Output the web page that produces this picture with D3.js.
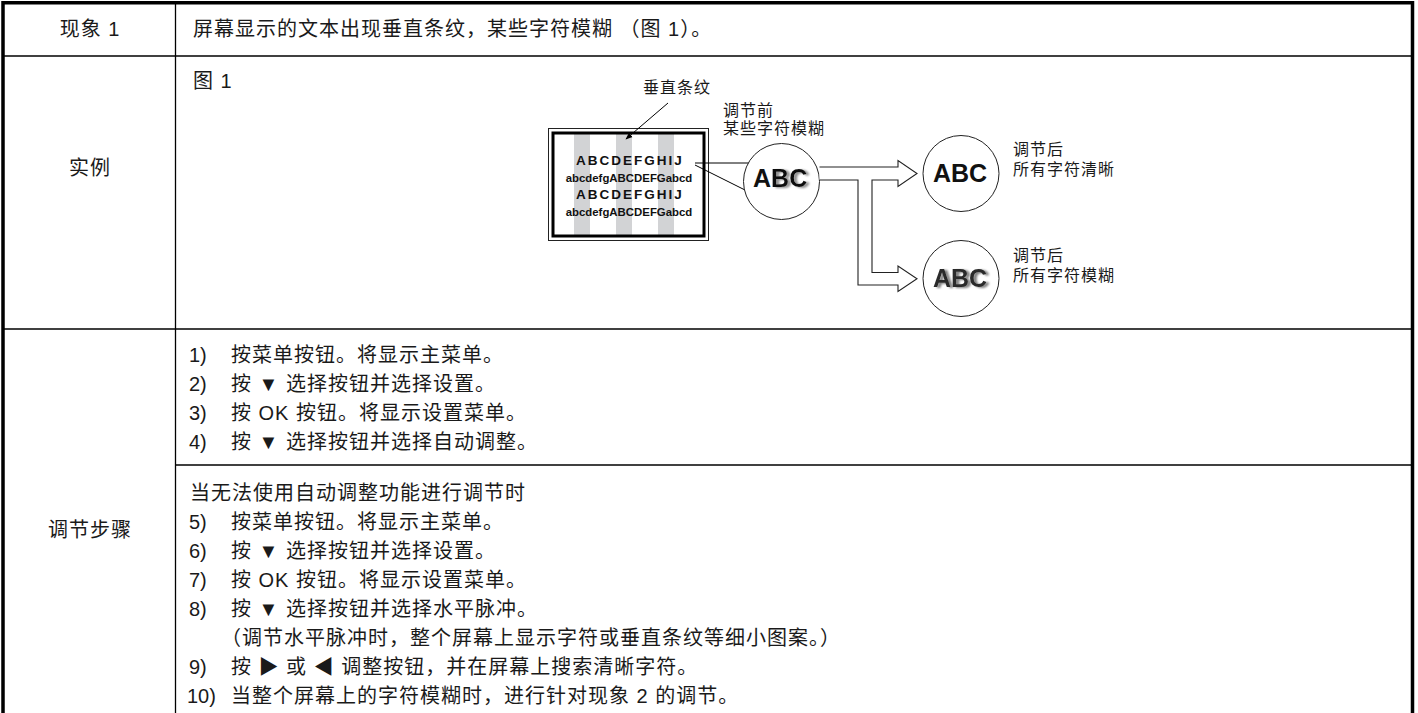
<!DOCTYPE html>
<html><head><meta charset="utf-8">
<script src="https://cdn.jsdelivr.net/npm/d3@7"></script>
<style>
html,body{margin:0;padding:0;background:#fff;}
svg{display:block;}
</style></head>
<body>
<div id="chart"></div>
<script>
// ---- content ----
const rowLabels = ["现象 1", "实例", "调节步骤"];
const symptomText = "屏幕显示的文本出现垂直条纹，某些字符模糊 （图 1）。";
const figureTitle = "图 1";
const stripeLabel = "垂直条纹";
const beforeLabels = ["调节前", "某些字符模糊"];
const afterClearLabels = ["调节后", "所有字符清晰"];
const afterBlurLabels = ["调节后", "所有字符模糊"];
const screenLines = ["ABCDEFGHIJ", "abcdefgABCDEFGabcd", "ABCDEFGHIJ", "abcdefgABCDEFGabcd"];
const circleText = "ABC";
const stepNumsA = ["1)", "2)", "3)", "4)"];
const stepTextsA = ["按菜单按钮。将显示主菜单。", "按 ▼ 选择按钮并选择设置。", "按 OK 按钮。将显示设置菜单。", "按 ▼ 选择按钮并选择自动调整。"];
const introB = "当无法使用自动调整功能进行调节时";
const stepNumsB = ["5)", "6)", "7)", "8)", "", "9)", "10)"];
const stepTextsB = ["按菜单按钮。将显示主菜单。", "按 ▼ 选择按钮并选择设置。", "按 OK 按钮。将显示设置菜单。", "按 ▼ 选择按钮并选择水平脉冲。", "（调节水平脉冲时，整个屏幕上显示字符或垂直条纹等细小图案。）", "按 ▶ 或 ◀ 调整按钮，并在屏幕上搜索清晰字符。", "当整个屏幕上的字符模糊时，进行针对现象 2 的调节。"];

// ---- layout ----
const W = 1418, H = 713;
const FONT = "'Liberation Sans', Arial, 'Noto Sans CJK SC', sans-serif";
const svg = d3.select("#chart").append("svg").attr("width", W).attr("height", H);
svg.append("rect").attr("width", W).attr("height", H).attr("fill", "#fff");
const defs = svg.append("defs");

const xL = 3, xR = 1412.5, xCol = 175.5;
const yRows = [2.75, 56, 329];
const ySub = 465;

const g = svg.append("g");
g.selectAll("line.row").data(yRows.slice(1)).join("line")
  .attr("x1", xL).attr("x2", xR).attr("y1", d => d).attr("y2", d => d)
  .attr("stroke", "#000").attr("stroke-width", 1.3);
g.append("line").attr("x1", xCol).attr("x2", xR).attr("y1", ySub).attr("y2", ySub)
  .attr("stroke", "#000").attr("stroke-width", 1.3);
g.append("line").attr("x1", xCol).attr("x2", xCol).attr("y1", yRows[0]).attr("y2", H)
  .attr("stroke", "#000").attr("stroke-width", 1.3);
g.append("path").attr("d", `M${xL},${H}V${yRows[0]}H${xR}V${H}`)
  .attr("fill", "none").attr("stroke", "#000").attr("stroke-width", 3.5);

const txtColor = "#1a1a1a";
function txt(x, y, s, size, anchor) {
  return svg.append("text").attr("x", x).attr("y", y).text(s)
    .attr("font-family", FONT).attr("font-size", size).attr("fill", txtColor)
    .attr("text-anchor", anchor || "start");
}

// row labels
const labelY = [29, 168, 530];
rowLabels.forEach((s, i) => txt(90, labelY[i] + 7, s, 20, "middle").attr("letter-spacing", 1));

// symptom text
txt(193, 29 + 7, symptomText, 20).attr("letter-spacing", 1);
txt(193, 81 + 7, figureTitle, 20).attr("letter-spacing", 1);

// steps block A
const yA = d3.scaleLinear().domain([0, 1]).range([355, 384]);
stepNumsA.forEach((n, i) => {
  txt(189, yA(i) + 7, n, 20);
  txt(231, yA(i) + 7, stepTextsA[i], 20).attr("letter-spacing", 1);
});
// steps block B
const yB = d3.scaleLinear().domain([0, 1]).range([493, 522]);
txt(190, yB(0) + 7, introB, 20).attr("letter-spacing", 1);
stepNumsB.forEach((n, i) => {
  const y = yB(i + 1) + 7;
  if (n) txt(n.length > 2 ? 187 : 189, y, n, 20);
  txt(n ? 231 : 221, y, stepTextsB[i], 20).attr("letter-spacing", 1);
});

// ---- figure ----
const fig = svg.append("g");
const mon = {x: 548.5, y: 128.5, w: 160, h: 112};
fig.append("rect").attr("x", mon.x).attr("y", mon.y).attr("width", mon.w).attr("height", mon.h)
  .attr("fill", "#fff").attr("stroke", "#222").attr("stroke-width", 1);
const stripeX = [574, 616, 658];
fig.selectAll("rect.stripe").data(stripeX).join("rect")
  .attr("x", d => d).attr("y", mon.y + 5).attr("width", 16).attr("height", mon.h - 10)
  .attr("fill", "#d2d3d5");
fig.append("rect").attr("x", mon.x + 4.5).attr("y", mon.y + 4.5).attr("width", mon.w - 9).attr("height", mon.h - 9)
  .attr("fill", "none").attr("stroke", "#000").attr("stroke-width", 3);
const lineY = [164.5, 182, 198.5, 216];
screenLines.forEach((s, i) => {
  const big = i % 2 === 0;
  fig.append("text").attr("x", big ? 630 : 629).attr("y", lineY[i]).text(s)
    .attr("font-family", FONT).attr("font-weight", "bold")
    .attr("font-size", big ? 13.5 : 11.4).attr("letter-spacing", big ? 2 : 0)
    .attr("text-anchor", "middle").attr("fill", "#111");
});
// stripe pointer
defs.append("marker").attr("id", "ah").attr("viewBox", "0 0 10 10")
  .attr("refX", 9).attr("refY", 5).attr("markerWidth", 7).attr("markerHeight", 7)
  .attr("markerUnits", "userSpaceOnUse").attr("orient", "auto")
  .append("path").attr("d", "M0,1L10,5L0,9Z").attr("fill", "#000");
fig.append("line").attr("x1", 668).attr("y1", 103).attr("x2", 626).attr("y2", 139)
  .attr("stroke", "#000").attr("stroke-width", 1).attr("marker-end", "url(#ah)");
fig.append("line").attr("x1", 695).attr("y1", 163).attr("x2", 749).attr("y2", 163).attr("stroke", "#000").attr("stroke-width", 1);
fig.append("line").attr("x1", 695).attr("y1", 165).attr("x2", 745).attr("y2", 190).attr("stroke", "#000").attr("stroke-width", 1);

// ghost (blurred) filters
function ghost(id, dx, sd, col) {
  const f = defs.append("filter").attr("id", id).attr("x", "-20%").attr("y", "-30%").attr("width", "150%").attr("height", "160%");
  f.append("feGaussianBlur").attr("in", "SourceAlpha").attr("stdDeviation", sd).attr("result", "b");
  f.append("feOffset").attr("in", "b").attr("dx", dx).attr("dy", 0.5).attr("result", "o");
  f.append("feFlood").attr("flood-color", col).attr("result", "c");
  f.append("feComposite").attr("in", "c").attr("in2", "o").attr("operator", "in").attr("result", "s");
  const m = f.append("feMerge");
  m.append("feMergeNode").attr("in", "s");
  m.append("feMergeNode").attr("in", "SourceGraphic");
}
ghost("ghostA", 2.5, 0.8, "#8a8a8a");
ghost("ghostB", 2.5, 1.0, "#7a7a7a");

const circles = [
  {cx: 781.5, cy: 181.5, ty: 187, mode: "partial"},
  {cx: 961, cy: 173.5, ty: 181.5, mode: "clear"},
  {cx: 961, cy: 278.5, ty: 286.5, mode: "blur"}
];
circles.forEach(c => {
  fig.append("circle").attr("cx", c.cx).attr("cy", c.cy).attr("r", 38)
    .attr("fill", "#fff").attr("stroke", "#222").attr("stroke-width", 1);
  const base = (x, s, anchor) => fig.append("text").attr("x", x).attr("y", c.ty).text(s)
    .attr("font-family", FONT).attr("font-weight", "bold").attr("font-size", 25)
    .attr("text-anchor", anchor).attr("fill", "#111");
  if (c.mode === "partial") {
    base(c.cx - 28.5, "A", "start");
    base(c.cx - 10.4, "BC", "start").attr("filter", "url(#ghostA)");
  } else if (c.mode === "blur") {
    base(c.cx - 1, circleText, "middle").attr("fill", "#2a2a2a").attr("filter", "url(#ghostB)");
  } else {
    base(c.cx - 1, circleText, "middle");
  }
});

// hollow double-line arrows
const a = {x0: 819.5, xv0: 858, xv1: 872, xh: 898, tip: 917, yt: 167, yb: 180, yt2: 272.5, yb2: 285};
const p = d3.path();
p.moveTo(a.x0, a.yt); p.lineTo(a.xh, a.yt);
p.lineTo(a.xh, a.yt - 6.5); p.lineTo(a.tip, (a.yt + a.yb) / 2);
p.lineTo(a.xh, a.yb + 6.5); p.lineTo(a.xh, a.yb); p.lineTo(a.xv1, a.yb);
p.lineTo(a.xv1, a.yt2); p.lineTo(a.xh, a.yt2);
p.lineTo(a.xh, a.yt2 - 6.5); p.lineTo(a.tip, (a.yt2 + a.yb2) / 2);
p.lineTo(a.xh, a.yb2 + 6.5); p.lineTo(a.xh, a.yb2); p.lineTo(a.xv0, a.yb2);
p.lineTo(a.xv0, a.yb); p.lineTo(a.x0, a.yb);
fig.append("path").attr("d", p.toString()).attr("fill", "#fff")
  .attr("stroke", "#222").attr("stroke-width", 1.1).attr("stroke-linejoin", "miter");

// figure labels
function lab(x, y, s) {
  return fig.append("text").attr("x", x).attr("y", y).text(s)
    .attr("font-family", FONT).attr("font-size", 16).attr("letter-spacing", 1).attr("fill", txtColor);
}
lab(643, 93, stripeLabel);
lab(723, 116, beforeLabels[0]); lab(723, 133.5, beforeLabels[1]);
lab(1013, 154.5, afterClearLabels[0]); lab(1013, 174.5, afterClearLabels[1]);
lab(1013, 261, afterBlurLabels[0]); lab(1013, 281, afterBlurLabels[1]);
</script>
</body></html>
